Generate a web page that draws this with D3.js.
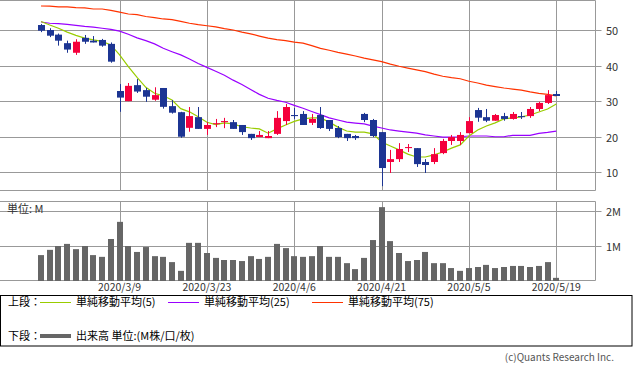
<!DOCTYPE html>
<html><head><meta charset="utf-8">
<script src="https://cdn.jsdelivr.net/npm/d3@7"></script>
<style>
body{margin:0;background:#fff;}
svg{display:block;font-family:"Noto Sans CJK JP","DejaVu Sans",sans-serif;}
</style></head><body>
<svg id="c" width="633" height="373"></svg>
<script>
const dates = ["2/25","2/26","2/27","2/28","3/2","3/3","3/4","3/5","3/6","3/9","3/10","3/11","3/12","3/13","3/16","3/17","3/18","3/19","3/20","3/23","3/24","3/25","3/26","3/27","3/30","3/31","4/1","4/2","4/3","4/6","4/7","4/8","4/9","4/13","4/14","4/15","4/16","4/17","4/20","4/21","4/22","4/23","4/24","4/27","4/28","4/29","4/30","5/1","5/4","5/5","5/6","5/7","5/8","5/11","5/12","5/13","5/14","5/15","5/18","5/19"];
const openV  = [51.4,50.0,48.7,46.3,43.6,47.8,47.0,47.2,46.1,32.85,30.0,34.5,33.1,30.4,33.7,28.6,26.9,22.5,25.5,22.2,23.55,24.1,24.1,23.3,20.8,19.9,19.6,20.8,24.4,26.1,26.4,23.9,26.1,24.7,22.45,20.8,20.2,26.4,24.7,21.3,12.9,13.7,16.8,16.8,12.9,12.9,15.4,18.8,18.8,21.0,27.5,25.5,24.5,25.8,25.0,25.8,25.8,27.8,29.5,32.0];
const highV  = [51.7,50.5,49.0,47.0,47.4,48.6,48.3,47.5,46.5,34.8,35.1,36.2,33.7,33.9,33.7,30.3,27.0,28.35,28.35,24.1,25.0,25.3,24.7,23.3,20.8,21.6,21.6,27.2,29.2,28.1,27.2,26.4,28.35,24.7,23.0,20.8,20.5,26.7,25.0,21.3,16.3,18.2,17.95,16.8,13.7,16.8,19.4,20.5,21.3,25.5,28.1,27.8,26.4,26.7,26.95,26.95,28.35,29.8,33.1,32.85];
const lowV   = [49.4,48.0,45.6,43.6,43.0,46.1,46.5,45.3,40.8,27.0,30.0,32.3,29.8,30.1,27.9,26.5,19.7,21.4,22.2,20.5,22.7,22.4,22.2,20.5,19.1,19.9,19.6,20.5,23.3,25.0,23.3,23.3,22.2,21.6,19.6,18.8,19.1,24.1,19.9,6.1,9.8,12.9,15.7,11.5,9.8,12.3,15.1,17.7,17.7,21.0,24.2,24.1,24.5,24.5,24.8,25.0,25.3,27.2,29.2,31.45];
const closeV = [49.8,48.4,47.0,44.5,46.7,46.7,46.5,45.6,41.1,31.0,34.3,32.7,31.25,31.7,28.4,26.75,20.0,25.8,22.2,23.3,23.8,24.4,22.2,21.3,19.6,20.5,20.2,25.3,28.35,25.8,23.3,25.0,22.45,22.2,19.9,19.6,19.6,24.7,20.2,11.2,13.7,16.55,17.1,12.3,12.05,15.1,18.8,19.9,20.5,24.4,25.35,24.5,26.1,25.0,26.4,25.5,27.8,29.5,31.7,31.45];
const ma5  = [52.4,51.4,50.5,49.4,48.5,47.7,47.2,46.8,45.8,43.0,39.7,36.7,33.9,32.2,31.5,30.3,27.9,27.0,25.6,24.05,23.4,23.9,23.6,22.8,22.45,22.2,21.0,22.2,23.3,24.3,25.0,25.3,25.3,24.1,22.7,21.6,21.3,21.3,20.8,18.5,17.4,16.3,15.1,14.3,14.3,14.9,15.7,16.8,17.7,20.2,21.9,23.0,23.9,25.0,25.3,25.6,26.1,26.95,27.8,29.2];
const ma25 = [52.25,51.9,51.8,51.6,51.3,51.0,50.8,50.5,50.2,49.7,48.8,47.8,47.0,46.1,44.85,43.9,43.0,41.85,40.6,39.5,38.4,37.3,35.9,34.7,33.3,31.9,30.8,30.2,29.7,28.8,28.0,27.1,26.2,25.3,24.7,24.1,23.85,23.6,23.0,22.45,21.9,21.6,21.3,21.0,20.5,20.2,19.9,19.9,20.0,20.2,20.2,20.2,20.0,20.0,20.4,20.4,20.4,20.95,21.2,21.6];
const ma75 = [56.75,56.7,56.5,56.5,56.3,56.2,55.9,55.9,55.5,55.0,54.5,54.3,53.8,53.5,53.1,52.9,52.4,51.9,51.5,51.2,50.9,50.4,50.0,49.4,48.9,48.3,47.7,47.3,47.0,46.6,46.3,45.6,44.85,44.3,43.7,43.2,42.7,42.1,41.6,41.1,40.4,39.8,39.3,38.8,38.3,37.6,37.0,36.6,36.3,35.6,35.1,34.5,34.1,33.7,33.4,33.1,32.6,32.2,31.9,31.5];
const volume = [0.74,0.89,1.0,1.06,0.91,1.0,0.74,0.69,1.2,1.69,1.0,0.83,0.97,0.71,0.69,0.54,0.29,1.09,1.09,0.8,0.66,0.6,0.6,0.57,0.71,0.63,0.69,1.06,0.94,0.71,0.69,0.71,1.0,0.69,0.69,0.51,0.34,0.66,1.17,2.11,1.14,0.8,0.57,0.6,0.83,0.51,0.51,0.37,0.29,0.37,0.4,0.46,0.37,0.4,0.43,0.43,0.4,0.43,0.54,0.09];
const priceTicks = [10,20,30,40,50];
const volTicks = [1,2];
const volTickLabels = ["1M","2M"];
const dateTickIdx = [9,19,29,39,49,59];
const dateTickLabels = ["2020/3/9","2020/3/23","2020/4/6","2020/4/21","2020/5/5","2020/5/19"];
const legendTop = [["単純移動平均(5)","#99cc00"],["単純移動平均(25)","#9900ff"],["単純移動平均(75)","#ff3300"]];

const svg = d3.select("#c");
const gridC = "#999";
const upC = "#f5003c", downC = "#1c3593";
const pL = 0, pR = 595.5;
const uTop = 0.5, uBot = 190.5, lTop = 201.5, lBot = 280.5;

const x = d3.scaleLinear().domain([0, dates.length - 1]).range([41, 556.3]);
const y = d3.scaleLinear().domain([10, 50]).range([172.3, 30]);
const yv = d3.scaleLinear().domain([0, 2]).range([281, 211]);

// upper grid
const gU = svg.append("g");
priceTicks.forEach(t => {
  const yy = Math.round(y(t)) + 0.5;
  gU.append("line").attr("x1", pL).attr("x2", pR + 6).attr("y1", yy).attr("y2", yy).attr("stroke", gridC);
  gU.append("text").attr("x", 606).attr("y", yy + 4).attr("font-size", 11).attr("fill", "#333").text(t);
});
dateTickIdx.forEach(i => {
  const xx = Math.round(x(i)) + 0.5;
  gU.append("line").attr("x1", xx).attr("x2", xx).attr("y1", uTop).attr("y2", uBot).attr("stroke", gridC);
  svg.append("line").attr("x1", xx).attr("x2", xx).attr("y1", lTop).attr("y2", lBot).attr("stroke", gridC);
});
gU.append("path").attr("d", `M${pL},${uTop}H${pR}V${uBot}H${pL}`).attr("fill", "none").attr("stroke", gridC);

// lower grid
volTicks.forEach((t, k) => {
  const yy = Math.round(yv(t)) + 0.5;
  svg.append("line").attr("x1", pL).attr("x2", pR + 6).attr("y1", yy).attr("y2", yy).attr("stroke", gridC);
  svg.append("text").attr("x", 606).attr("y", yy + 4).attr("font-size", 11).attr("fill", "#333").text(volTickLabels[k]);
});
svg.append("path").attr("d", `M${pL},${lTop}H${pR}V${lBot}H${pL}`).attr("fill", "none").attr("stroke", gridC);
svg.append("text").attr("x", 7).attr("y", 213).attr("font-size", 11).attr("fill", "#333").text("単位: M");

// date labels
dateTickIdx.forEach((i, k) => {
  svg.append("text").attr("x", x(i)).attr("y", 291).attr("text-anchor", "middle").attr("font-size", 10.5).attr("fill", "#333").text(dateTickLabels[k]);
});

// volume bars
svg.append("g").selectAll("rect").data(volume).join("rect")
  .attr("x", (d, i) => Math.round(x(i)) - 3).attr("width", 6)
  .attr("y", d => yv(d)).attr("height", d => yv(0) - yv(d)).attr("fill", "#666");

// MAs
const line = d3.line().x((d, i) => x(i)).y(d => y(d));
[[ma75, "#ff3300"], [ma25, "#9900ff"], [ma5, "#99cc00"]].forEach(([s, c]) => {
  svg.append("path").attr("d", line(s)).attr("fill", "none").attr("stroke", c).attr("stroke-width", 1.2);
});

// candles
const cg = svg.append("g");
dates.forEach((d, i) => {
  const up = closeV[i] >= openV[i];
  const col = up ? upC : downC;
  const cx = Math.round(x(i)) + 0.5;
  cg.append("line").attr("x1", cx).attr("x2", cx).attr("y1", y(highV[i])).attr("y2", y(lowV[i])).attr("stroke", col);
  const t = y(Math.max(openV[i], closeV[i])), b = y(Math.min(openV[i], closeV[i]));
  cg.append("rect").attr("x", cx - 3.5).attr("width", 7).attr("y", t).attr("height", Math.max(1, b - t)).attr("fill", col);
});

// legend
svg.append("rect").attr("x", 0.5).attr("y", 295.5).attr("width", 631.5).attr("height", 50.5).attr("fill", "none").attr("stroke", "#000");
svg.append("text").attr("x", 8).attr("y", 306).attr("font-size", 11).attr("fill", "#000").text("上段：");
const lx = [40, 168, 312];
legendTop.forEach(([t, c], k) => {
  svg.append("line").attr("x1", lx[k]).attr("x2", lx[k] + 31).attr("y1", 302.5).attr("y2", 302.5).attr("stroke", c).attr("stroke-width", 1);
  svg.append("text").attr("x", lx[k] + 36).attr("y", 306).attr("font-size", 11).attr("fill", "#000").text(t);
});
svg.append("text").attr("x", 8).attr("y", 340).attr("font-size", 11).attr("fill", "#000").text("下段：");
svg.append("line").attr("x1", 40).attr("x2", 71).attr("y1", 336).attr("y2", 336).attr("stroke", "#666").attr("stroke-width", 4);
svg.append("text").attr("x", 76).attr("y", 340).attr("font-size", 11).attr("fill", "#000").text("出来高 単位:(M株/口/枚)");
svg.append("text").attr("x", 614).attr("y", 361).attr("text-anchor", "end").attr("font-size", 10).attr("fill", "#555").text("(c)Quants Research Inc.");
</script></body></html>
